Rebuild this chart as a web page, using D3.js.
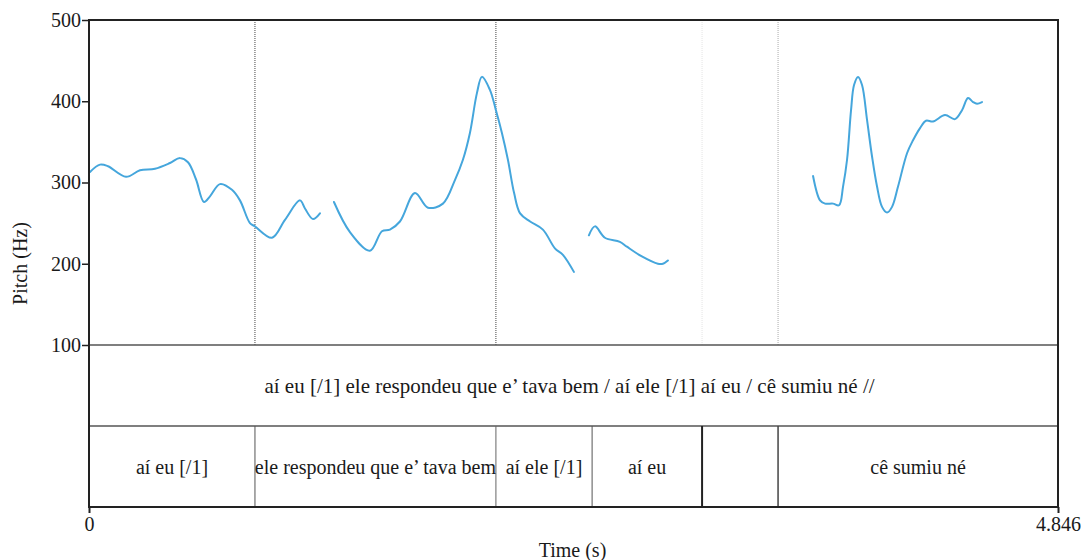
<!DOCTYPE html>
<html>
<head>
<meta charset="utf-8">
<script src="https://cdn.jsdelivr.net/npm/d3@7"></script>
<style>
  html, body { margin: 0; padding: 0; background: #fff; }
</style>
</head>
<body>
<svg id="chart" width="1081" height="560"></svg>
<script>
// ---- data ----
const timeDomain = [0, 4.846];
const pitchDomain = [100, 500];
const pitchTicks = [100, 200, 300, 400, 500];
const timeTicks = [0, 4.846];

const seg1Time = [0.005,0.055,0.095,0.185,0.255,0.330,0.405,0.455,0.495,0.535,0.575,0.605,0.655,0.715,0.755,0.805,0.830,0.915,0.980,1.055,1.080,1.120,1.155];
const seg1Hz   = [313,322,320,307,315,317,324,330,325,304,276,283,298,291,278,250,246,232,254,278,268,255,262];

const seg2Time = [1.225,1.305,1.405,1.465,1.505,1.555,1.630,1.695,1.770,1.830,1.870,1.905,1.940,1.965,2.005,2.035,2.065,2.095,2.126,2.156,2.206,2.270,2.330,2.370,2.425];
const seg2Hz   = [276,239,216,240,242,252,287,269,274,303,328,361,410,430,414,389,361,328,287,262,252,242,219,211,190];

const seg3Time = [2.500,2.530,2.580,2.655,2.690,2.765,2.845,2.870,2.895];
const seg3Hz   = [235,246,232,227,221,209,200,200,204];

const seg4Time = [3.621,3.656,3.681,3.721,3.751,3.771,3.791,3.811,3.826,3.846,3.866,3.891,3.916,3.941,3.966,3.991,4.016,4.046,4.091,4.121,4.156,4.186,4.221,4.281,4.331,4.366,4.396,4.421,4.441,4.466];
const seg4Hz   = [308,278,274,274,272,295,328,389,420,430,420,377,332,295,270,263,270,295,336,352,367,376,375,383,378,389,404,399,397,399];

const pitchMarks = [0.830, 2.035, 3.066, 3.446];
const pitchMarkShade = ["#444", "#444", "#e4e4e4", "#aaa"];

const tier1Bounds = [0, 4.846];
const tier1Labels = ["aí eu [/1] ele respondeu que e’ tava bem / aí ele [/1] aí eu / cê sumiu né //"];

const tier2Bounds = [0, 0.830, 2.035, 2.516, 3.066, 3.446, 4.846];
const tier2Labels = ["aí eu [/1]", "ele respondeu que e’ tava bem", "aí ele [/1]", "aí eu", "", "cê sumiu né"];

// ---- layout ----
const FONT = "'Liberation Serif', 'DejaVu Serif', serif";
const svg = d3.select("#chart");
const L = 89, R = 1058, T = 20, PB = 345, T1B = 426, T2B = 507;

const x = d3.scaleLinear().domain(timeDomain).range([L, R]);
const y = d3.scaleLinear().domain(pitchDomain).range([PB, T]);

// pitch-panel boundary marks (dotted)
svg.append("g").selectAll("line").data(pitchMarks).join("line")
  .attr("x1", d => x(d)).attr("x2", d => x(d))
  .attr("y1", T).attr("y2", PB)
  .attr("stroke", (d, i) => pitchMarkShade[i])
  .attr("stroke-width", 1)
  .attr("stroke-dasharray", "1,1");

// pitch curve
const segments = [[seg1Time, seg1Hz], [seg2Time, seg2Hz], [seg3Time, seg3Hz], [seg4Time, seg4Hz]];
const line = d3.line().x(d => x(d[0])).y(d => y(d[1])).curve(d3.curveCatmullRom.alpha(0.5));
svg.append("g").selectAll("path").data(segments).join("path")
  .attr("d", s => line(s[0].map((t, i) => [t, s[1][i]])))
  .attr("fill", "none")
  .attr("stroke", "#45a6dc")
  .attr("stroke-width", 2)
  .attr("stroke-linejoin", "round")
  .attr("stroke-linecap", "round");

// tier separators
svg.append("line").attr("x1", L).attr("x2", R).attr("y1", PB).attr("y2", PB)
  .attr("stroke", "#555").attr("stroke-width", 1.5);
svg.append("line").attr("x1", L).attr("x2", R).attr("y1", T1B).attr("y2", T1B)
  .attr("stroke", "#555").attr("stroke-width", 1.5);

// tier 1 text
const tier1Mid = tier1Labels.map((t, i) => (tier1Bounds[i] + tier1Bounds[i + 1]) / 2);
svg.append("g").selectAll("text").data(tier1Labels).join("text")
  .attr("x", (d, i) => x(tier1Mid[i]) - 4)
  .attr("y", (PB + T1B) / 2)
  .attr("dy", "0.35em")
  .attr("text-anchor", "middle")
  .attr("font-family", FONT)
  .attr("font-size", 21)
  .attr("fill", "#1a1a1a")
  .text(d => d);

// tier 2 boundaries
const tier2Inner = tier2Bounds.slice(1, -1);
const tier2Width = [1, 1, 1, 2, 1.5];
const tier2Color = ["#555", "#666", "#555", "#222", "#444"];
svg.append("g").selectAll("line").data(tier2Inner).join("line")
  .attr("x1", d => x(d)).attr("x2", d => x(d))
  .attr("y1", T1B).attr("y2", T2B)
  .attr("stroke", (d, i) => tier2Color[i])
  .attr("stroke-width", (d, i) => tier2Width[i]);

// tier 2 text
svg.append("g").selectAll("text").data(tier2Labels).join("text")
  .attr("x", (d, i) => x((tier2Bounds[i] + tier2Bounds[i + 1]) / 2))
  .attr("y", (T1B + T2B) / 2)
  .attr("dy", "0.35em")
  .attr("text-anchor", "middle")
  .attr("font-family", FONT)
  .attr("font-size", 20)
  .attr("fill", "#1a1a1a")
  .text(d => d);

// frame
svg.append("rect").attr("x", L).attr("y", T).attr("width", R - L).attr("height", T2B - T)
  .attr("fill", "none").attr("stroke", "#222").attr("stroke-width", 2);

// y axis
const yAxis = d3.axisLeft(y).tickValues(pitchTicks).tickSize(7).tickPadding(1).tickFormat(d3.format("d"));
const gy = svg.append("g").attr("transform", `translate(${L},0)`).call(yAxis)
  .attr("font-family", FONT).attr("font-size", 20);
gy.select(".domain").remove();
gy.selectAll(".tick line").attr("stroke", "#222").attr("stroke-width", 1.5);
gy.selectAll(".tick text").attr("fill", "#1a1a1a");

// x axis
const xAxis = d3.axisBottom(x).tickValues(timeTicks).tickSize(6).tickPadding(4)
  .tickFormat(d => d === 0 ? "0" : d3.format(".3f")(d));
const gx = svg.append("g").attr("transform", `translate(0,${T2B})`).call(xAxis)
  .attr("font-family", FONT).attr("font-size", 20);
gx.select(".domain").remove();
gx.selectAll(".tick line").attr("stroke", "#222").attr("stroke-width", 2);
gx.selectAll(".tick text").attr("fill", "#1a1a1a");

// axis titles
svg.append("text").attr("x", (L + R) / 2 - 1).attr("y", 550).attr("dy", "0.35em")
  .attr("text-anchor", "middle").attr("font-size", 20).attr("font-family", FONT)
  .attr("fill", "#1a1a1a").text("Time (s)");
svg.append("text").attr("transform", `translate(20,${(T + T2B) / 2}) rotate(-90)`)
  .attr("dy", "0.35em").attr("text-anchor", "middle").attr("font-size", 20).attr("font-family", FONT)
  .attr("fill", "#1a1a1a").text("Pitch (Hz)");
</script>
</body>
</html>
